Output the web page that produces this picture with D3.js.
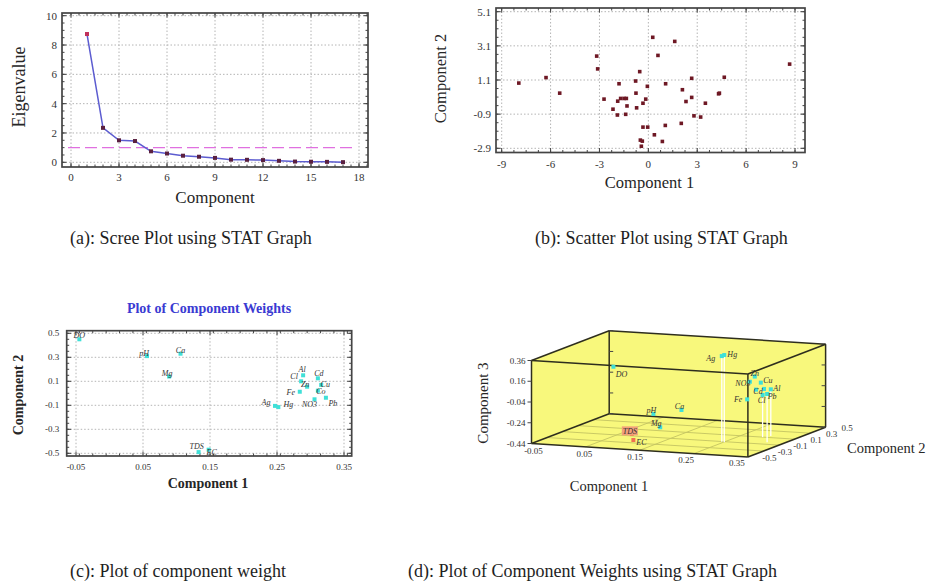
<!DOCTYPE html>
<html lang="en">
<head>
<meta charset="UTF-8">
<title>PCA plots</title>
<script src="https://d3js.org/d3.v7.min.js"></script>
<style>
  body { margin: 0; background: #fff; }
  svg { display: block; font-family: "Liberation Serif", "Times New Roman", serif; }
  .grid { stroke: #b4b4b4; stroke-width: 1; stroke-dasharray: 1.5,2; }
  .frame { fill: none; stroke: #444; stroke-width: 1.7; }
  .tick { stroke: #444; stroke-width: 1; }
  .tl { fill: #333; }
  .edge { stroke: #2e2e1e; stroke-width: 1.5; fill: none; }
  .ptlabel { font-style: italic; fill: #333; }
</style>
</head>
<body>
<svg id="fig" width="927" height="586"></svg>
<script>
// ---- (a) scree plot
const screeComponents = [1, 2, 3, 4, 5, 6, 7, 8, 9, 10, 11, 12, 13, 14, 15, 16, 17];
const eigenvalues = [8.75, 2.35, 1.5, 1.45, 0.75, 0.6, 0.45, 0.38, 0.3, 0.18, 0.17, 0.15, 0.1, 0.05, 0.04, 0.03, 0.01];
const eigenCutoff = 1;
const screeXTicks = [0, 3, 6, 9, 12, 15, 18];
const screeYTicks = [0, 2, 4, 6, 8, 10];

// ---- (b) component scores
const scoreC1 = [-7.95, -6.28, -5.44, -3.17, -3.11, -2.72, -2.17, -1.80, -1.88, -1.90, -1.70, -1.49, -1.35, -1.31, -1.39,
  -0.78, -0.76, -0.72, -0.53, -0.33, -0.16, -0.06, -0.33, -0.04, -0.49, -0.37, -0.43, 0.27, 0.59, 1.62, 1.06, 0.37,
  0.86, 1.04, 2.09, 2.02, 2.31, 2.66, 2.66, 2.80, 3.21, 3.50, 4.31, 4.36, 4.66, 8.67];
const scoreC2 = [0.92, 1.24, 0.33, 2.5, 1.75, -0.02, -0.61, 0.88, -0.14, -0.95, 0.02, 0.02, 0.02, -0.42, -0.91,
  1.04, 0.33, -0.53, 1.59, -0.26, -0.02, 0.73, -1.66, -1.66, -2.42, -2.48, -2.78, 3.6, 2.54, 3.36, 0.88, -2.11,
  -2.50, -1.56, 0.53, -1.44, -0.16, 1.20, 0.08, -1.0, -1.07, -0.26, 0.29, 0.33, 1.26, 2.03];
const scoreXTicks = [-9, -6, -3, 0, 3, 6, 9];
const scoreYTicks = [-2.9, -0.9, 1.1, 3.1, 5.1];

// ---- (c) component weights
const weightNames = ["DO", "pH", "Ca", "Mg", "TDS", "EC", "Ag", "Hg", "Al", "Cl", "Cd", "Zn", "Cu", "Fe", "Co", "NO3", "Pb"];
const weightC1 = [-0.045, 0.056, 0.106, 0.089, 0.133, 0.148, 0.247, 0.252, 0.289, 0.286, 0.311, 0.295, 0.316, 0.284, 0.311, 0.306, 0.323];
const weightC2 = [0.45, 0.31, 0.33, 0.14, -0.49, -0.47, -0.105, -0.115, 0.15, 0.10, 0.125, 0.055, 0.07, 0.013, 0.022, -0.05, -0.037];
const redNames = ["TDS", "EC"];
const weightXTicks = [-0.05, 0.05, 0.15, 0.25, 0.35];
const weightXLabels = ["-0.05", "0.05", "0.15", "0.25", "0.35"];
const weightYTicks = [-0.5, -0.3, -0.1, 0.1, 0.3, 0.5];
const weightYLabels = ["-0.5", "-0.3", "-0.1", "0.1", "0.3", "0.5"];

// ---- (d) 3D component weights
const w3Names = ["DO", "pH", "Ca", "Mg", "TDS", "EC", "Ag", "Hg", "Zn", "NO3", "Cu", "Cd", "Al", "Pb", "Cl", "Fe", "Co"];
const w3C1 = [-0.035, 0.059, 0.108, 0.096, 0.134, 0.134, 0.245, 0.251, 0.283, 0.289, 0.292, 0.29, 0.299, 0.319, 0.291, 0.275, 0.29];
const w3C2 = [0.45, 0.31, 0.33, 0.14, -0.49, -0.47, -0.105, -0.115, 0.055, -0.05, 0.07, 0.125, 0.15, -0.037, 0.10, 0.013, 0.022];
const w3C3 = [0.032, -0.352, -0.304, -0.42, -0.29, -0.355, 0.385, 0.40, 0.154, 0.136, 0.094, 0.017, 0.009, 0.024, -0.034, -0.056, 0.04];
const dropNames = ["Ag", "Hg", "Cl", "Pb", "Al"];
const w3XTicks = [-0.05, 0.05, 0.15, 0.25, 0.35];
const w3XLabels = ["-0.05", "0.05", "0.15", "0.25", "0.35"];
const w3YTicks = [-0.5, -0.3, -0.1, 0.1, 0.3, 0.5];
const w3YLabels = ["-0.5", "-0.3", "-0.1", "0.1", "0.3", "0.5"];
const w3ZTicks = [-0.44, -0.24, -0.04, 0.16, 0.36];
const w3ZLabels = ["-0.44", "-0.24", "-0.04", "0.16", "0.36"];

// label nudges (px, label centre relative to its point)
const nudgeC = { DO: [0, -4], pH: [-3, -3], Ca: [0, -4], Mg: [-2, -3], TDS: [-2, -6], EC: [3, 2], Ag: [-9, -4], Hg: [10, -3],
  Al: [-1, -6], Cl: [-7, -5], Cd: [1, -5], Zn: [-2, -3], Cu: [4, -1], Fe: [-9, 0], Co: [3, 1], NO3: [-5, 5], Pb: [7, 5] };
const nudgeD = { DO: [8, 7], pH: [-2, -4], Ca: [-2, -4], Mg: [-4, -4], TDS: [-2, -3], EC: [8, 2], Ag: [-11, 2], Hg: [8, -1],
  Zn: [0, -3], NO3: [-7, 1], Cu: [7, -2], Cd: [-6, 2], Al: [6, -1], Pb: [5, 2], Cl: [-1, 5], Fe: [-9, 0] };

const svg = d3.select("#fig");

// framed 2D panel with dotted grid, inward ticks and labels
function framedPanel(g, o) {
  const f = o.frame;
  g.append("g").selectAll("line").data(o.xTicks).join("line").attr("class", "grid")
    .attr("x1", d => o.x(d)).attr("x2", d => o.x(d)).attr("y1", f.t).attr("y2", f.b);
  g.append("g").selectAll("line").data(o.yTicks).join("line").attr("class", "grid")
    .attr("y1", d => o.y(d)).attr("y2", d => o.y(d)).attr("x1", f.l).attr("x2", f.r);

  const ticks = g.append("g");
  const xm = d3.range(o.xMinor[0], o.xMinor[1] + 1e-9, o.xMinor[2]).filter(v => o.x(v) > f.l + 1 && o.x(v) < f.r - 1);
  const ym = d3.range(o.yMinor[0], o.yMinor[1] + 1e-9, o.yMinor[2]).filter(v => o.y(v) < f.b - 1 && o.y(v) > f.t + 1);
  xm.forEach(v => {
    ticks.append("line").attr("class", "tick").attr("x1", o.x(v)).attr("x2", o.x(v)).attr("y1", f.b).attr("y2", f.b - 2.5);
    ticks.append("line").attr("class", "tick").attr("x1", o.x(v)).attr("x2", o.x(v)).attr("y1", f.t).attr("y2", f.t + 2.5);
  });
  ym.forEach(v => {
    ticks.append("line").attr("class", "tick").attr("y1", o.y(v)).attr("y2", o.y(v)).attr("x1", f.l).attr("x2", f.l + 2.5);
    ticks.append("line").attr("class", "tick").attr("y1", o.y(v)).attr("y2", o.y(v)).attr("x1", f.r).attr("x2", f.r - 2.5);
  });
  o.xTicks.forEach(v => {
    ticks.append("line").attr("class", "tick").attr("x1", o.x(v)).attr("x2", o.x(v)).attr("y1", f.b).attr("y2", f.b - 4.5);
    ticks.append("line").attr("class", "tick").attr("x1", o.x(v)).attr("x2", o.x(v)).attr("y1", f.t).attr("y2", f.t + 4.5);
  });
  o.yTicks.forEach(v => {
    ticks.append("line").attr("class", "tick").attr("y1", o.y(v)).attr("y2", o.y(v)).attr("x1", f.l).attr("x2", f.l + 4.5);
    ticks.append("line").attr("class", "tick").attr("y1", o.y(v)).attr("y2", o.y(v)).attr("x1", f.r).attr("x2", f.r - 4.5);
  });

  g.append("rect").attr("class", "frame").attr("x", f.l).attr("y", f.t).attr("width", f.r - f.l).attr("height", f.b - f.t);

  g.append("g").selectAll("text").data(o.xTicks).join("text").attr("class", "tl")
    .attr("x", d => o.x(d)).attr("y", f.b + o.xLabelOff).attr("text-anchor", "middle")
    .attr("font-size", o.tickFont).text((d, i) => o.xLabels[i]);
  g.append("g").selectAll("text").data(o.yTicks).join("text").attr("class", "tl")
    .attr("x", f.l - o.yLabelGap).attr("y", d => o.y(d)).attr("dy", "0.35em").attr("text-anchor", "end")
    .attr("font-size", o.tickFont).text((d, i) => o.yLabels[i]);
}

function axisTitle(x, y, txt, size, rotate, extra) {
  const t = svg.append("text").attr("text-anchor", "middle").attr("dy", "0.35em")
    .attr("font-size", size).attr("fill", "#262626").text(txt)
    .attr("transform", `translate(${x},${y})` + (rotate ? " rotate(-90)" : ""));
  if (extra) extra(t);
  return t;
}

// ================= (a) =================
{
  const g = svg.append("g");
  const x = d3.scaleLinear().domain([0, 18]).range([71, 359]);
  const y = d3.scaleLinear().domain([0, 10]).range([162.3, 15.7]);
  framedPanel(g, {
    frame: { l: 62, t: 13, r: 368, b: 167 }, x, y,
    xTicks: screeXTicks, yTicks: screeYTicks,
    xLabels: screeXTicks.map(String), yLabels: screeYTicks.map(String),
    xMinor: [-0.5, 18.5, 0.5], yMinor: [0, 10, 0.5],
    xLabelOff: 14, yLabelGap: 5, tickFont: 11
  });
  g.append("line").attr("x1", x(0) - 3).attr("x2", x(18) - 6).attr("y1", y(eigenCutoff)).attr("y2", y(eigenCutoff))
    .attr("stroke", "#e070e0").attr("stroke-width", 1.4).attr("stroke-dasharray", "12,5");
  const pts = screeComponents.map((c, i) => [c, eigenvalues[i]]);
  g.append("path").datum(pts)
    .attr("d", d3.line().x(d => x(d[0])).y(d => y(d[1])))
    .attr("fill", "none").attr("stroke", "#5c5cd0").attr("stroke-width", 1.5);
  g.selectAll("rect.m").data(pts).join("rect").attr("class", "m")
    .attr("x", d => x(d[0]) - 2).attr("y", d => y(d[1]) - 2).attr("width", 4).attr("height", 4)
    .attr("fill", (d, i) => i === 0 ? "#c0305a" : "#5a2040");
  axisTitle(18.5, 87, "Eigenvalue", 18, true);
  axisTitle(215, 197.5, "Component", 17, false);
}

// ================= (b) =================
{
  const g = svg.append("g");
  const x = d3.scaleLinear().domain([-9, 9]).range([501.7, 795]);
  const y = d3.scaleLinear().domain([-2.9, 5.1]).range([148.3, 11.7]);
  framedPanel(g, {
    frame: { l: 496, t: 8, r: 805, b: 152.5 }, x, y,
    xTicks: scoreXTicks, yTicks: scoreYTicks,
    xLabels: scoreXTicks.map(String), yLabels: scoreYTicks.map(String),
    xMinor: [-9.75, 9.75, 0.75], yMinor: [-2.9, 5.1, 0.5],
    xLabelOff: 15.5, yLabelGap: 5, tickFont: 11
  });
  g.selectAll("rect.p").data(scoreC1).join("rect").attr("class", "p")
    .attr("x", d => x(d) - 1.8).attr("y", (d, i) => y(scoreC2[i]) - 1.8).attr("width", 3.6).attr("height", 3.6)
    .attr("fill", "#6e1824");
  axisTitle(440.5, 78.5, "Component 2", 16.5, true);
  axisTitle(649.5, 182.5, "Component 1", 16.5, false);
}

// ================= (c) =================
{
  const g = svg.append("g");
  const x = d3.scaleLinear().domain([-0.05, 0.35]).range([76, 344]);
  const y = d3.scaleLinear().domain([-0.5, 0.5]).range([453.3, 333.3]);
  framedPanel(g, {
    frame: { l: 66.7, t: 330.7, r: 351.7, b: 456 }, x, y,
    xTicks: weightXTicks, yTicks: weightYTicks,
    xLabels: weightXLabels, yLabels: weightYLabels,
    xMinor: [-0.065, 0.365, 0.02], yMinor: [-0.5, 0.5, 0.05],
    xLabelOff: 14, yLabelGap: 7.5, tickFont: 9
  });
  g.selectAll("rect.p").data(weightNames).join("rect").attr("class", "p")
    .attr("x", (d, i) => x(weightC1[i]) - 2).attr("y", (d, i) => y(weightC2[i]) - 2)
    .attr("width", 4).attr("height", 4).attr("fill", "#3fe0d8");
  g.selectAll("text.lab").data(weightNames).join("text").attr("class", "lab ptlabel")
    .attr("x", (d, i) => x(weightC1[i]) + nudgeC[d][0]).attr("y", (d, i) => y(weightC2[i]) + nudgeC[d][1])
    .attr("dy", "0.35em").attr("text-anchor", "middle").attr("font-size", 8)
    .attr("fill", d => redNames.includes(d) ? "#e02828" : "#333").text(d => d);
  axisTitle(209, 308, "Plot of Component Weights", 14, false, t => t.attr("fill", "#3a3ad2").attr("font-weight", "bold"));
  axisTitle(18.5, 395, "Component 2", 14, true, t => t.attr("font-weight", "bold"));
  axisTitle(208, 483, "Component 1", 14, false, t => t.attr("font-weight", "bold"));
}

// ================= (d) =================
{
  const g = svg.append("g");
  const px = d3.scaleLinear().domain([-0.05, 0.35]).range([0, 1]);
  const py = d3.scaleLinear().domain([-0.5, 0.5]).range([0, 1]);
  const pz = d3.scaleLinear().domain([-0.44, 0.36]).range([0, 1]);
  const O = [531.5, 443.5], VX = [216.4, 13.5], VY = [77.7, -29.8], VZ = [0, -83];
  const proj = (a, b, c) => {
    const u = px(a), v = py(b), w = pz(c);
    return [O[0] + u * VX[0] + v * VY[0] + w * VZ[0], O[1] + u * VX[1] + v * VY[1] + w * VZ[1]];
  };
  const [x0, x1] = px.domain(), [y0, y1] = py.domain(), [z0, z1] = pz.domain();
  const C = {
    o: proj(x0, y0, z0), fbr: proj(x1, y0, z0), bbl: proj(x0, y1, z0), bbr: proj(x1, y1, z0),
    ftl: proj(x0, y0, z1), ftr: proj(x1, y0, z1), btl: proj(x0, y1, z1), btr: proj(x1, y1, z1)
  };
  // yellow back faces
  g.append("path").attr("d", d3.line()([C.o, C.ftl, C.btl, C.btr, C.bbr, C.fbr]) + "Z").attr("fill", "#f8f87c");
  // floor grid
  const fg = g.append("g").attr("stroke", "#c4c462").attr("stroke-width", 0.9);
  w3XTicks.slice(1, -1).forEach(v => {
    const a = proj(v, y0, z0), b = proj(v, y1, z0);
    fg.append("line").attr("x1", a[0]).attr("y1", a[1]).attr("x2", b[0]).attr("y2", b[1]);
  });
  w3YTicks.slice(1, -1).forEach(v => {
    const a = proj(x0, v, z0), b = proj(x1, v, z0);
    fg.append("line").attr("x1", a[0]).attr("y1", a[1]).attr("x2", b[0]).attr("y2", b[1]);
  });
  const edge = (a, b) => g.append("line").attr("class", "edge")
    .attr("x1", a[0]).attr("y1", a[1]).attr("x2", b[0]).attr("y2", b[1]);
  // back edges
  [[C.o, C.bbl], [C.bbl, C.bbr], [C.bbl, C.btl], [C.btl, C.btr], [C.btr, C.bbr], [C.o, C.ftl], [C.ftl, C.btl], [C.o, C.fbr], [C.fbr, C.bbr]]
    .forEach(e => edge(e[0], e[1]));
  // small ticks on back wall edges and the front z axis
  w3ZTicks.forEach(v => {
    const a = proj(x0, y1, v), b = proj(x1, y1, v);
    g.append("line").attr("class", "tick").attr("x1", a[0]).attr("y1", a[1]).attr("x2", a[0] + 4).attr("y2", a[1]);
    g.append("line").attr("class", "tick").attr("x1", b[0]).attr("y1", b[1]).attr("x2", b[0] - 4).attr("y2", b[1]);
    const c = proj(x0, y0, v);
    g.append("line").attr("class", "tick").attr("x1", c[0] - 4).attr("y1", c[1]).attr("x2", c[0]).attr("y2", c[1]);
  });
  // drop lines
  const pts = w3Names.map((n, i) => ({ n, p: proj(w3C1[i], w3C2[i], w3C3[i]), f: proj(w3C1[i], w3C2[i], z0) }));
  g.selectAll("line.drop").data(pts.filter(d => dropNames.includes(d.n))).join("line").attr("class", "drop")
    .attr("x1", d => d.p[0]).attr("y1", d => d.p[1]).attr("x2", d => d.f[0]).attr("y2", d => d.f[1])
    .attr("stroke", "#ffffff").attr("stroke-width", 1.3);
  // front edges
  [[C.ftl, C.ftr], [C.ftr, C.fbr], [C.ftr, C.btr]].forEach(e => edge(e[0], e[1]));
  // points and labels
  g.selectAll("rect.p").data(pts).join("rect").attr("class", "p")
    .attr("x", d => d.p[0] - 2).attr("y", d => d.p[1] - 2).attr("width", 4).attr("height", 4)
    .attr("fill", d => redNames.includes(d.n) ? "#f07050" : "#3fe0d8");
  const labelled = pts.filter(d => nudgeD[d.n]);
  g.selectAll("rect.box").data(labelled.filter(d => d.n === "TDS")).join("rect").attr("class", "box")
    .attr("x", d => d.p[0] + nudgeD[d.n][0] - 8).attr("y", d => d.p[1] + nudgeD[d.n][1] - 4.5)
    .attr("width", 16).attr("height", 9).attr("fill", "#f2a07a");
  g.selectAll("text.lab").data(labelled).join("text").attr("class", "lab ptlabel")
    .attr("x", d => d.p[0] + nudgeD[d.n][0]).attr("y", d => d.p[1] + nudgeD[d.n][1])
    .attr("dy", "0.35em").attr("text-anchor", "middle").attr("font-size", 8)
    .attr("fill", d => redNames.includes(d.n) ? "#e02828" : "#333").text(d => d.n);
  // tick labels
  g.selectAll("text.zl").data(w3ZTicks).join("text").attr("class", "zl tl")
    .attr("x", d => proj(x0, y0, d)[0] - 6).attr("y", d => proj(x0, y0, d)[1]).attr("dy", "0.35em")
    .attr("text-anchor", "end").attr("font-size", 9).text((d, i) => w3ZLabels[i]);
  g.selectAll("text.xl").data(w3XTicks).join("text").attr("class", "xl tl")
    .attr("x", d => O[0] + 0.94 * (proj(d, y0, z0)[0] - O[0]) + 2)
    .attr("y", d => O[1] + 0.94 * (proj(d, y0, z0)[1] - O[1]) + 7).attr("dy", "0.35em")
    .attr("text-anchor", "middle").attr("font-size", 9).text((d, i) => w3XLabels[i]);
  g.selectAll("text.yl").data(w3YTicks).join("text").attr("class", "yl tl")
    .attr("x", d => proj(x1, d, z0)[0] + 21.5).attr("y", d => proj(x1, d, z0)[1] + 1).attr("dy", "0.35em")
    .attr("text-anchor", "middle").attr("font-size", 9).text((d, i) => w3YLabels[i]);
  axisTitle(482.5, 403, "Component 3", 15, true);
  axisTitle(609, 486, "Component 1", 14.5, false);
  svg.append("text").attr("x", 847).attr("y", 448).attr("dy", "0.35em").attr("font-size", 14.5)
    .attr("fill", "#262626").text("Component 2");
}

// ================= captions =================
const captions = [
  [70, 244, "(a): Scree Plot using STAT Graph"],
  [535, 244, "(b): Scatter Plot using STAT Graph"],
  [70, 577, "(c): Plot of component weight"],
  [408, 577, "(d): Plot of Component Weights using STAT Graph"]
];
svg.append("g").selectAll("text").data(captions).join("text")
  .attr("x", d => d[0]).attr("y", d => d[1]).attr("font-size", 18).attr("fill", "#1e1e1e").text(d => d[2]);
</script>
</body>
</html>
